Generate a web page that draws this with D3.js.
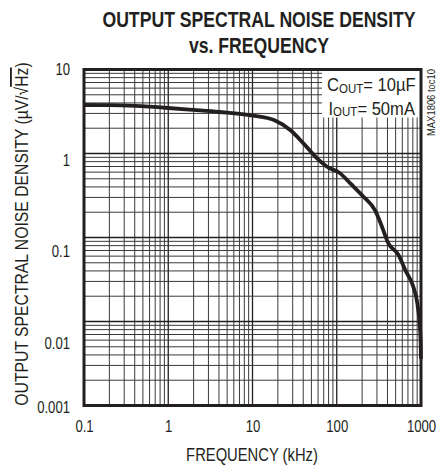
<!DOCTYPE html>
<html>
<head>
<meta charset="utf-8">
<script src="https://cdn.jsdelivr.net/npm/d3@7"></script>
<style>
  html, body { margin: 0; padding: 0; background: #fff; }
  svg { display: block; }
</style>
</head>
<body>
<div id="chart"></div>
<script>
// output spectral noise density vs frequency (log-log)

const FREQ_KHZ = [0.1, 0.2, 0.4, 1, 2, 4, 10, 18, 28, 40, 58, 76, 110, 145, 205, 285, 330, 410, 540, 650, 810, 900, 955, 990, 1000];
const NOISE    = [3.78, 3.76, 3.68, 3.48, 3.3, 3.12, 2.83, 2.5, 1.9, 1.33, 0.88, 0.70, 0.58, 0.44, 0.31, 0.21, 0.15, 0.085, 0.062, 0.041, 0.026, 0.017, 0.0104, 0.006, 0.0036];

const X_TICKS  = [0.1, 1, 10, 100, 1000];
const X_LABELS = ['0.1', '1', '10', '100', '1000'];
const Y_TICKS  = [10, 1, 0.1, 0.01, 0.001];
const Y_LABELS = ['10', '1', '0.1', '0.01', '0.001'];

const TITLE  = ['OUTPUT SPECTRAL NOISE DENSITY', 'vs. FREQUENCY'];
const X_TITLE = 'FREQUENCY (kHz)';
const NOTE = [['C', 'OUT', '= 10µF'], ['I', 'OUT', '= 50mA']];
const TOC = 'MAX1806 toc10';

(function () {
    // Arial metrics, squeezed to look like Arial Narrow
    const FONT = '"Liberation Sans", Arial, sans-serif';
    const INK = '#231f20';
    const W = 438, H = 468;
    const box = { left: 84, right: 421, top: 69.5, bottom: 405.5 };

    const narrow = (sel, k = 0.82) => sel.each(function () {
        const len = this.getComputedTextLength();
        d3.select(this).attr('textLength', len * k).attr('lengthAdjust', 'spacingAndGlyphs');
    });

    const data = FREQ_KHZ.map((f, i) => ({ f, v: NOISE[i] }));

    const svg = d3.select('#chart').append('svg')
        .attr('width', W).attr('height', H)
        .attr('viewBox', `0 0 ${W} ${H}`);

    const x = d3.scaleLog().domain([0.1, 1000]).range([box.left, box.right]);
    const y = d3.scaleLog().domain([0.001, 10]).range([box.bottom, box.top]);

    const isDecade = v => Math.abs(Math.log10(v) - Math.round(Math.log10(v))) < 1e-6;

    // grid (1..9 per decade)
    const g = svg.append('g');
    g.selectAll('.vgrid').data(x.ticks()).enter().append('line')
        .attr('x1', d => x(d)).attr('x2', d => x(d))
        .attr('y1', box.top).attr('y2', box.bottom)
        .attr('stroke', d => isDecade(d) ? INK : '#3a3a3a')
        .attr('stroke-width', d => isDecade(d) ? 1.3 : 1);

    g.selectAll('.hgrid').data(y.ticks()).enter().append('line')
        .attr('x1', box.left).attr('x2', box.right)
        .attr('y1', d => y(d)).attr('y2', d => y(d))
        .attr('stroke', d => isDecade(d) ? INK : '#3a3a3a')
        .attr('stroke-width', d => isDecade(d) ? 1.3 : 1);

    // white note box in the top-right corner
    g.append('rect')
        .attr('x', 322).attr('y', box.top)
        .attr('width', box.right - 322).attr('height', 117.5 - box.top)
        .attr('fill', '#fff');

    const noteText = g.selectAll('.note').data(NOTE).enter().append('text')
        .attr('x', (d, i) => 327 + i * 1.5).attr('y', (d, i) => 91 + i * 23.5)
        .attr('font-family', FONT).attr('font-size', '18px').attr('fill', INK);
    noteText.append('tspan').text(d => d[0]);
    noteText.append('tspan').attr('font-size', '12.5px').attr('dy', 1.5).text(d => d[1]);
    noteText.append('tspan').attr('dy', -1.5).text(d => d[2]);
    noteText.call(narrow, 0.92);

    // curve
    const line = d3.line()
        .x(d => x(d.f))
        .y(d => y(d.v))
        .curve(d3.curveMonotoneX);

    g.append('path')
        .datum(data)
        .attr('fill', 'none')
        .attr('stroke', INK)
        .attr('stroke-width', 3.8)
        .attr('stroke-linejoin', 'round')
        .attr('d', line);

    // frame
    g.append('rect')
        .attr('x', box.left).attr('y', box.top)
        .attr('width', box.right - box.left).attr('height', box.bottom - box.top)
        .attr('fill', 'none').attr('stroke', INK).attr('stroke-width', 3);

    // axes
    svg.append('g').attr('transform', `translate(0,${box.bottom})`)
        .call(d3.axisBottom(x).tickValues(X_TICKS).tickSize(0).tickPadding(15)
            .tickFormat((d, i) => X_LABELS[i]))
        .call(a => a.select('.domain').remove())
        .selectAll('text')
        .attr('font-family', FONT).attr('font-size', '16px').attr('fill', INK)
        .call(narrow);

    // the printed labels sit a little below their decade lines
    const Y_NUDGE = [0, 7, 14, 22, 2];
    svg.append('g').attr('transform', `translate(${box.left},0)`)
        .call(d3.axisLeft(y).tickValues(Y_TICKS).tickSize(0).tickPadding(14)
            .tickFormat((d, i) => Y_LABELS[i]))
        .call(a => a.select('.domain').remove())
        .selectAll('text')
        .attr('font-family', FONT).attr('font-size', '16px').attr('fill', INK)
        .attr('y', (d, i) => Y_NUDGE[i])
        .call(narrow);

    // titles
    svg.append('g').selectAll('text').data(TITLE).enter().append('text')
        .attr('x', 259).attr('y', (d, i) => 27 + i * 26)
        .attr('text-anchor', 'middle')
        .attr('font-family', FONT).attr('font-size', '21.5px').attr('font-weight', 'bold')
        .attr('fill', INK)
        .text(d => d)
        .call(narrow);

    svg.append('text')
        .attr('x', 252).attr('y', 461)
        .attr('text-anchor', 'middle')
        .attr('font-family', FONT).attr('font-size', '18px').attr('fill', INK)
        .text(X_TITLE)
        .call(narrow);

    const yt = svg.append('text')
        .attr('transform', 'translate(28,234) rotate(-90)')
        .attr('text-anchor', 'middle')
        .attr('font-family', FONT).attr('font-size', '18.5px').attr('fill', INK);
    yt.append('tspan').text('OUTPUT SPECTRAL NOISE DENSITY (µV/√');
    yt.append('tspan').style('text-decoration', 'overline').text('Hz');
    yt.append('tspan').text(')');
    yt.call(narrow, 0.85);

    svg.append('text')
        .attr('transform', 'translate(435,102.5) rotate(-90)')
        .attr('text-anchor', 'middle')
        .attr('font-family', FONT).attr('font-size', '11.5px').attr('fill', INK)
        .text(TOC)
        .call(narrow);
})();
</script>
</body>
</html>
